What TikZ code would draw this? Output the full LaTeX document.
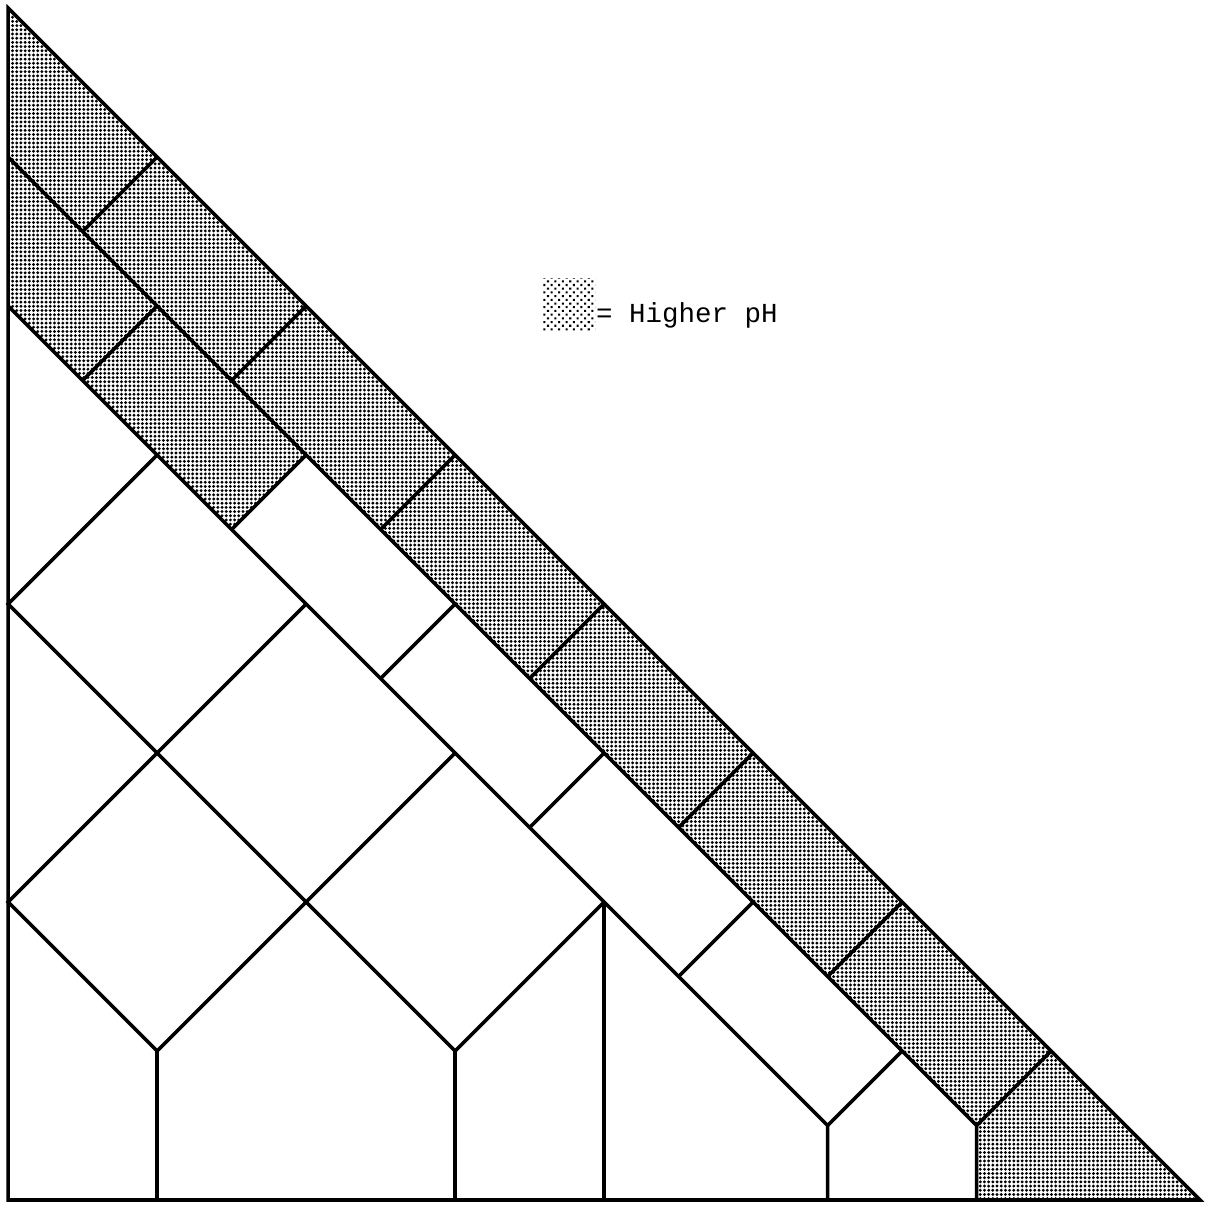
\documentclass[tikz,border=0pt]{standalone}
\usepackage{fontspec}
\setmonofont{Liberation Mono}
\usetikzlibrary{positioning,patterns.meta}

\tikzset{
  seam/.style={line width=1.35pt, line join=miter},
  highph/.style={pattern={Dots[distance=1.6pt,radius=0.62pt]}}
}

\begin{document}
\begin{tikzpicture}[x=2cm, y=2cm]
  \useasboundingbox (-0.054,-0.047) rectangle (8.094,8.054);

  % shaded strip along the slope
  \fill[highph] (0,8) -- (8,0) -- (6.5,0) -- (6.5,0.5) -- (2,5) -- (1.5,4.5) -- (0,6) -- cycle;

  % outline
  \draw[seam] (0,8) -- (0,0) -- (8,0) -- cycle;

  % strips parallel to the slope, cut into blocks
  \draw[seam] (0,7) -- (6.5,0.5) -- (6.5,0);
  \draw[seam] (0,6) -- (5.5,0.5) -- (5.5,0);
  \foreach \k in {1,...,7}
    \draw[seam] ({\k},{8-\k}) -- ({\k-0.5},{7.5-\k});
  \foreach \k in {1,...,6}
    \draw[seam] ({\k},{7-\k}) -- ({\k-0.5},{6.5-\k});

  % lower blocks
  \draw[seam] (1,5) -- (0,4) -- (3,1) -- (4,2);
  \draw[seam] (2,4) -- (0,2) -- (1,1) -- (3,3);
  \foreach \px/\h in {1/1,3/1,4/2}
    \draw[seam] (\px,\h) -- (\px,0);

  % key
  \node[pattern={Dots[distance=2pt,radius=0.55pt,angle=45]},
        minimum size=0.7cm, inner sep=0pt] (swatch) at (3.765,6.01) {};
  \node[anchor=base west, inner sep=0pt,
        font=\ttfamily\fontsize{10.5}{12}\selectfont] (key)
    at ([yshift=-2.35mm]swatch.east) {= Higher pH};
\end{tikzpicture}
\end{document}
